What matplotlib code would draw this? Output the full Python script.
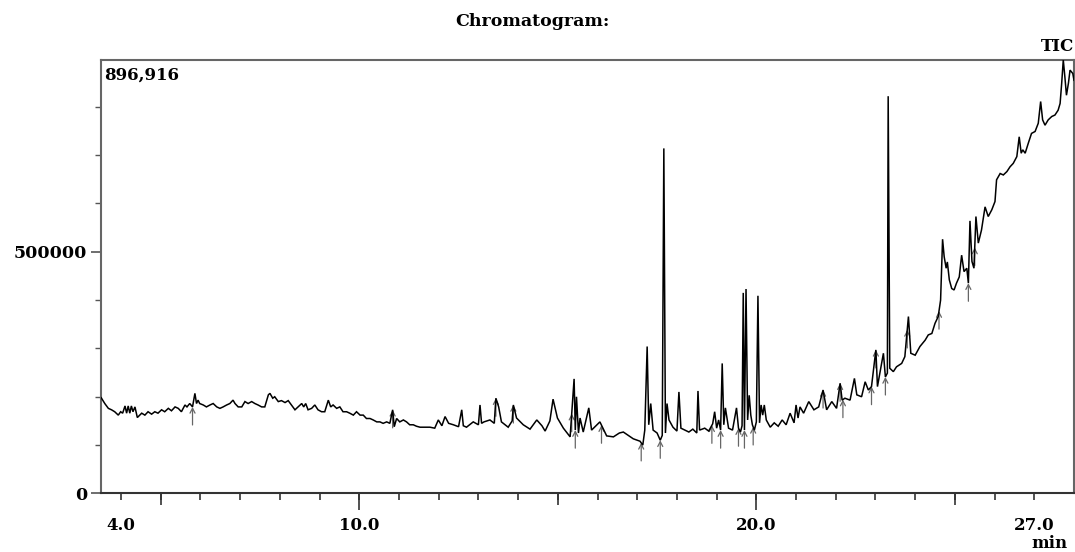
import numpy as np
import matplotlib
matplotlib.use("Agg")
import matplotlib.pyplot as plt

# ---------------- data ----------------
title = "Chromatogram:"
max_label = "896,916"
trace_label = "TIC"
x_unit = "min"

y_max = 896916

times = [
    3.50, 3.59, 3.68, 3.76, 3.84, 3.93, 3.99, 4.04, 4.10, 4.14, 4.18, 4.22, 4.26, 4.30, 4.35,
    4.41, 4.52, 4.60, 4.68, 4.77, 4.85, 4.93, 5.02, 5.10, 5.19, 5.27, 5.36, 5.44, 5.52, 5.61,
    5.66, 5.73, 5.80, 5.86, 5.90, 5.94, 5.98, 6.07, 6.15, 6.24, 6.32, 6.41, 6.49, 6.57, 6.66,
    6.74, 6.82, 6.87, 6.95, 7.04, 7.12, 7.20, 7.29, 7.37, 7.45, 7.54, 7.62, 7.71, 7.75, 7.82,
    7.87, 7.96, 8.04, 8.13, 8.21, 8.29, 8.38, 8.46, 8.55, 8.60, 8.65, 8.71, 8.80, 8.88, 8.96,
    9.05, 9.13, 9.22, 9.28, 9.34, 9.43, 9.51, 9.59, 9.68, 9.76, 9.85, 9.93, 10.02, 10.10, 10.18,
    10.27, 10.35, 10.44, 10.52, 10.60, 10.69, 10.77, 10.84, 10.88, 10.94, 11.02, 11.11, 11.19,
    11.27, 11.36, 11.44, 11.53, 11.61, 11.70, 11.78, 11.90,
    11.99, 12.08, 12.16, 12.25,
    12.37, 12.50, 12.58, 12.62, 12.70, 12.87, 13.00, 13.04, 13.08, 13.14, 13.29, 13.40, 13.44,
    13.51, 13.58, 13.75, 13.85, 13.88, 13.96, 14.13, 14.30, 14.47, 14.60, 14.68, 14.80, 14.88,
    14.99, 15.14, 15.31, 15.41, 15.44, 15.47, 15.52, 15.56, 15.64, 15.78, 15.85, 16.06, 16.23,
    16.40, 16.55, 16.65, 16.90, 17.07, 17.14, 17.19, 17.25, 17.29, 17.34, 17.40, 17.50, 17.58,
    17.63, 17.67, 17.71, 17.75, 17.80, 17.90, 18.00, 18.05, 18.10, 18.20, 18.30, 18.40, 18.50,
    18.53, 18.57, 18.70, 18.80, 18.90, 18.95, 19.00, 19.05, 19.10, 19.14, 19.18, 19.22, 19.30,
    19.40, 19.50, 19.55, 19.60, 19.64, 19.67, 19.70, 19.74, 19.78, 19.82, 19.86, 19.90, 19.95,
    20.00, 20.04, 20.08, 20.12, 20.16, 20.20, 20.25, 20.35, 20.45, 20.55, 20.65, 20.75, 20.85,
    20.95, 21.00, 21.05, 21.10, 21.19, 21.32, 21.45, 21.57, 21.68, 21.77, 21.90, 22.02, 22.11,
    22.16, 22.23, 22.36, 22.47, 22.53, 22.65, 22.74, 22.82, 22.90, 23.01, 23.05, 23.11, 23.20,
    23.25, 23.30, 23.32, 23.36, 23.45, 23.53, 23.66, 23.74, 23.83, 23.89, 24.00, 24.12, 24.25,
    24.33, 24.42, 24.50, 24.58, 24.64, 24.69, 24.73, 24.78, 24.81, 24.86, 24.92, 24.98, 25.04,
    25.11, 25.17, 25.23, 25.30, 25.34, 25.38, 25.43, 25.48, 25.53, 25.59, 25.67, 25.76, 25.84,
    25.93, 26.01, 26.05, 26.14, 26.22, 26.31, 26.39, 26.47, 26.56, 26.62, 26.67, 26.71, 26.77,
    26.85, 26.93, 27.02, 27.10, 27.16, 27.21, 27.27, 27.35, 27.44, 27.52, 27.60, 27.65, 27.69,
    27.73, 27.77, 27.81, 27.86, 27.90, 27.97, 28.00,
]

# intensity in thousands of counts
intensity_k = [
    198, 186, 176, 173, 169, 162, 169, 166, 181, 166, 181, 166, 181, 169, 179,
    157, 166, 162, 169, 164, 169, 166, 173, 169, 176, 171, 179, 176, 169, 183,
    179, 186, 179, 207, 186, 193, 186, 183, 179, 183, 186, 179, 176, 179, 183,
    186, 193, 186, 179, 179, 190, 186, 190, 186, 183, 179, 179, 204, 207, 197,
    200, 190, 192, 188, 192, 183, 173, 179, 186, 179, 186, 173, 176, 183, 173,
    169, 169, 193, 179, 183, 176, 179, 169, 169, 166, 162, 169, 162, 162, 155,
    155, 152, 148, 148, 145, 148, 145, 173, 138, 155, 148, 152, 148,
    142, 142, 139, 137, 137, 137, 137, 135,
    152, 140, 159, 145,
    142, 138, 173, 140, 137, 148, 142, 183, 145, 148, 152, 145, 197,
    179, 148, 137, 150, 183, 156, 142, 133, 152, 140, 129, 150, 195,
    156, 135, 117, 237, 131, 200, 125, 156, 127, 177, 131, 148, 119,
    117, 125, 127, 113, 108, 100, 131, 304, 142, 186, 131, 125, 110,
    120, 714, 125, 186, 152, 137, 129, 210, 135, 131, 127, 133, 125,
    212, 131, 135, 129, 144, 169, 135, 152, 131, 269, 142, 177, 135,
    131, 177, 135, 127, 140, 415, 131, 423, 152, 203, 162, 142, 131,
    148, 409, 146, 183, 162, 183, 152, 137, 146, 139, 152, 142, 166,
    146, 183, 156, 179, 166, 190, 173, 179, 214, 173, 190, 176, 228,
    193, 197, 193, 238, 204, 200, 231, 214, 221, 297, 221, 249, 290,
    241, 249, 822, 259, 252, 262, 269, 283, 366, 290, 286, 304, 317,
    328, 331, 352, 366, 400, 526, 490, 466, 479, 442, 424, 421, 435,
    448, 493, 459, 466, 435, 564, 480, 466, 573, 518, 545, 593, 573,
    587, 604, 649, 662, 659, 666, 676, 683, 697, 738, 704, 711, 704,
    725, 745, 749, 766, 811, 773, 762, 773, 780, 783, 793, 807, 849,
    897, 862, 824, 849, 876, 869, 855,
]

# peak start/end marks of the integration (retention times, min)
peak_marks = [5.80, 10.84, 13.44, 13.88, 15.35, 15.44, 16.10, 17.10, 17.58,
              18.88, 19.10, 19.55, 19.70, 19.92, 21.68, 22.11, 22.18, 22.90,
              23.01, 23.25, 23.80, 24.60, 25.34, 25.50]

x_tick_labels = {4: "4.0", 10: "10.0", 20: "20.0", 27: "27.0"}
y_tick_labels = {0: "0", 500000: "500000"}

# ---------------- drawing ----------------
t = np.array(times)
v = np.array(intensity_k) * 1000.0

W, H = 1075, 552
fig = plt.figure(figsize=(W / 100, H / 100), dpi=100)
left, right, bottom, top = 101.2, 1074.0, 493.4, 60.0
ax = fig.add_axes([left / W, 1 - bottom / H, (right - left) / W, (bottom - top) / H])

serif = "DejaVu Serif"

ax.plot(t, v, color="black", lw=1.1, solid_joinstyle="miter", zorder=3)

for pm in peak_marks:
    yv = np.interp(pm, t, v)
    ax.annotate("", xy=(pm, yv), xytext=(0, -13), textcoords="offset points",
                arrowprops=dict(arrowstyle="->,head_length=0.35,head_width=0.18",
                                color="#666666", lw=0.9, shrinkA=0, shrinkB=0),
                zorder=2, annotation_clip=False)

ax.set_xlim(3.5, 28.0)
ax.set_ylim(0, y_max)

# x ticks: every minute (short), labels at selected positions
xt = np.arange(4, 28, 1)
ax.set_xticks(xt)
ax.set_xticklabels([x_tick_labels.get(int(k), "") for k in xt])
ax.tick_params(axis="x", direction="out", length=5, width=1.2, color="#333333",
               pad=12, labelsize=12)
for lab in ax.get_xticklabels():
    lab.set_fontfamily(serif)
    lab.set_fontweight("bold")

# longer tick marks at 5-minute and 10-minute positions
sec5 = ax.secondary_xaxis("bottom")
sec5.set_xticks([5, 15, 25])
sec5.set_xticklabels([])
sec5.tick_params(axis="x", length=8.5, width=1.2, color="#333333")
sec5.spines["bottom"].set_visible(False)
sec10 = ax.secondary_xaxis("bottom")
sec10.set_xticks([10, 20])
sec10.set_xticklabels([])
sec10.tick_params(axis="x", length=12.5, width=1.2, color="#333333")
sec10.spines["bottom"].set_visible(False)

# y ticks
ax.set_yticks(list(y_tick_labels.keys()))
ax.set_yticklabels(list(y_tick_labels.values()))
ax.set_yticks(np.arange(100000, 900000, 100000), minor=True)
ax.tick_params(axis="y", which="major", direction="out", length=7, width=1.2,
               color="#555555", pad=3, labelsize=12.5)
ax.tick_params(axis="y", which="minor", direction="out", length=4, width=1.0,
               color="#555555")
for lab in ax.get_yticklabels():
    lab.set_fontfamily(serif)
    lab.set_fontweight("bold")

for side in ["left", "top", "right"]:
    ax.spines[side].set_color("#666666")
    ax.spines[side].set_linewidth(1.5)
ax.spines["bottom"].set_color("#333333")
ax.spines["bottom"].set_linewidth(1.5)

ax.text(0.003, 0.985, max_label, transform=ax.transAxes, ha="left", va="top",
        fontsize=12, fontweight="bold", family=serif)
ax.text(1.0, 1.012, trace_label, transform=ax.transAxes, ha="right", va="bottom",
        fontsize=12, fontweight="bold", family=serif)
fig.text(1068 / W, 1 - 543 / H, x_unit, ha="right", va="center",
         fontsize=12, fontweight="bold", family=serif)
fig.text(532 / W, 1 - 22 / H, title, ha="center", va="center",
         fontsize=12.5, fontweight="bold", family=serif)

fig.savefig("out.png", dpi=100)
